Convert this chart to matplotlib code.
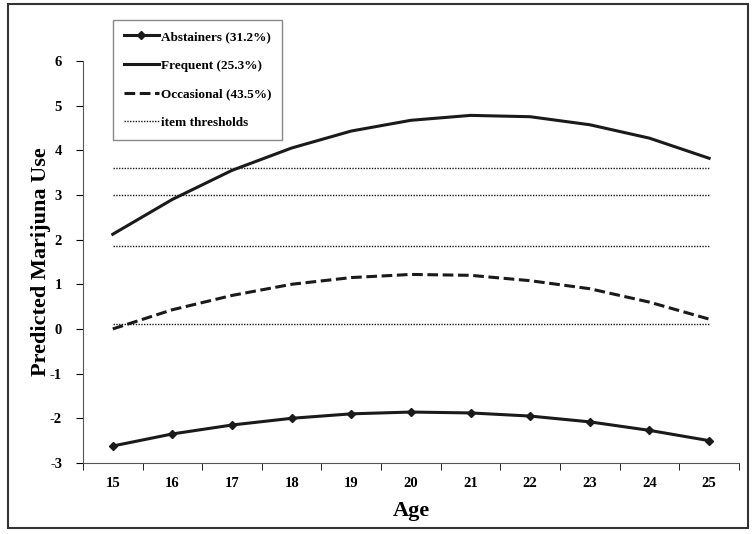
import matplotlib.pyplot as plt
from matplotlib.patches import Rectangle
from matplotlib.ticker import FixedLocator

# Daten
ages = [15, 16, 17, 18, 19, 20, 21, 22, 23, 24, 25]
abstainers = [-2.62, -2.35, -2.15, -2.0, -1.9, -1.86, -1.88, -1.95, -2.08, -2.27, -2.5]
frequent = [2.12, 2.9, 3.55, 4.05, 4.43, 4.67, 4.78, 4.75, 4.57, 4.27, 3.82]
occasional = [0.0, 0.43, 0.75, 1.0, 1.15, 1.22, 1.2, 1.08, 0.9, 0.6, 0.22]
thresholds = [3.6, 3.0, 1.86, 0.1]
y_ticks = [-3, -2, -1, 0, 1, 2, 3, 4, 5, 6]

plt.rcParams['font.family'] = 'Liberation Serif'
plt.rcParams['font.weight'] = 'bold'
plt.rcParams['axes.unicode_minus'] = False

fig = plt.figure(figsize=(7.54, 5.34), dpi=100)
ax = fig.add_axes([0.110, 0.133, 0.870, 0.753])

# Rahmen um die ganze Grafik
fig.patches.append(Rectangle((0.010, 0.012), 0.982, 0.980, transform=fig.transFigure,
                             fill=False, edgecolor='#333333', linewidth=1.5))

ax.plot(ages, abstainers, color='#1a1a1a', lw=2.2, marker='D', markersize=4.5,
        label='Abstainers (31.2%)')
ax.plot(ages, frequent, color='#1a1a1a', lw=2.2, label='Frequent (25.3%)')
ax.plot(ages, occasional, color='#1a1a1a', lw=2.2, ls=(0, (3.5, 1.5)),
        label='Occasional (43.5%)')
for i, t in enumerate(thresholds):
    ax.plot([ages[0], ages[-1]], [t, t], color='#1a1a1a', lw=1.0, ls=(0, (1, 1)),
            label='item thresholds' if i == 0 else None)

ax.set_xlim(14.5, 25.5)
ax.set_ylim(-3, 6)
ax.set_yticks(y_ticks)
ax.set_xticks(ages)
ax.xaxis.set_minor_locator(FixedLocator([a - 0.5 for a in ages] + [ages[-1] + 0.5]))
ax.tick_params(axis='x', which='major', length=0, pad=10, labelsize=10.5)
ax.tick_params(axis='x', which='minor', length=5, direction='out')
ax.tick_params(axis='y', length=5, direction='out', labelsize=10.5, pad=10)
for lab in ax.get_xticklabels() + ax.get_yticklabels():
    lab.set_fontweight('bold')

for s in ['top', 'right']:
    ax.spines[s].set_visible(False)
ax.spines['left'].set_color('#555555')
ax.spines['bottom'].set_color('#555555')

ax.set_xlabel('Age', fontsize=16, fontweight='bold', labelpad=8)
ax.set_ylabel('Predicted Marijuna Use', fontsize=16, fontweight='bold', labelpad=-1)

leg = ax.legend(loc='upper left', bbox_to_anchor=(113 / 754, 1 - 20 / 534),
                bbox_transform=fig.transFigure, borderaxespad=0, fancybox=False,
                framealpha=1, edgecolor='#888888', fontsize=9.5, handlelength=2.65,
                handletextpad=0.2, labelspacing=1.25, borderpad=0.8)
leg.get_frame().set_linewidth(1.0)

fig.savefig('out.png', dpi=100)
